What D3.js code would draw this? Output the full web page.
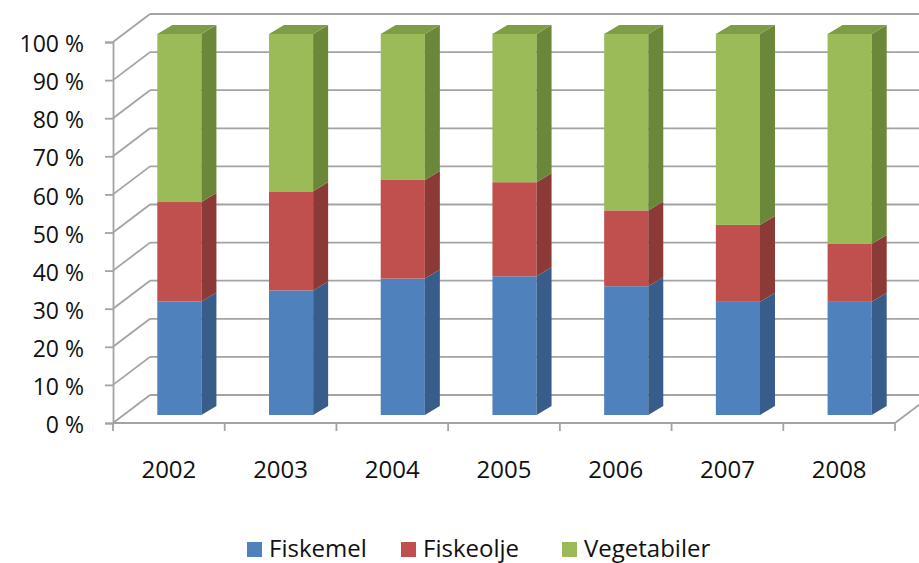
<!DOCTYPE html>
<html>
<head>
<meta charset="utf-8">
<script src="https://cdn.jsdelivr.net/npm/d3@7"></script>
<style>
  html, body { margin: 0; padding: 0; background: #fff; }
  svg { display: block; }
  text { font-family: "Open Sans", "Noto Sans", sans-serif; fill: #111; }
</style>
</head>
<body>
<svg id="chart" width="919" height="563"></svg>
<script>
// ---- data ----
const categories = ["2002", "2003", "2004", "2005", "2006", "2007", "2008"];
const seriesNames = ["Fiskemel", "Fiskeolje", "Vegetabiler"];
const fiskemel    = [29.8, 32.7, 35.8, 36.4, 33.8, 29.7, 29.7];
const fiskeolje   = [26.1, 26.0, 25.9, 24.7, 19.9, 20.2, 15.2];
const vegetabiler = [44.1, 41.3, 38.3, 38.9, 46.3, 50.1, 55.1];
const yTicks = [0, 10, 20, 30, 40, 50, 60, 70, 80, 90, 100];

const frontColors = ["#4f81bd", "#c0504d", "#9bbb59"];
const sideColors  = ["#385d8a", "#8b3a37", "#6b873a"];
const topColors   = ["#4470a6", "#a94543", "#7f9d47"];

// ---- layout ----
const W = 919, H = 563;
const plotLeft = 113, plotRight = 895, plotBottom = 423, plotTop = 42;
const depthX = 37, depthY = -28;           // wall depth
const barShiftX = 10.5, barShiftY = -8;    // bar front position inside depth
const barDX = 15, barDY = -9;              // bar depth
const gridColor = "#a3a3a3";

const svg = d3.select("#chart");

const x = d3.scaleBand()
  .domain(categories)
  .range([plotLeft, plotRight])
  .paddingInner(0.605)
  .paddingOuter(0.3025);

const y = d3.scaleLinear().domain([0, 100]).range([plotBottom, plotTop]);

// ---- walls / gridlines ----
const grid = svg.append("g");
yTicks.forEach(t => {
  const yf = y(t), yb = y(t) + depthY;
  grid.append("line")
    .attr("x1", plotLeft).attr("y1", yf)
    .attr("x2", plotLeft + depthX).attr("y2", yb)
    .attr("stroke", gridColor).attr("stroke-width", 1.8);
  grid.append("line")
    .attr("x1", plotLeft + depthX).attr("y1", yb)
    .attr("x2", W + 5).attr("y2", yb)
    .attr("stroke", gridColor).attr("stroke-width", 1.8);
});
// floor front edge + right floor edge
grid.append("line")
  .attr("x1", plotLeft).attr("y1", plotBottom)
  .attr("x2", plotRight).attr("y2", plotBottom)
  .attr("stroke", gridColor).attr("stroke-width", 1.8);
grid.append("line")
  .attr("x1", plotRight).attr("y1", plotBottom)
  .attr("x2", plotRight + depthX).attr("y2", plotBottom + depthY)
  .attr("stroke", gridColor).attr("stroke-width", 1.8);

// ---- y axis ----
const yAxis = d3.axisLeft(y)
  .tickValues(yTicks)
  .tickFormat(d => d + " %")
  .tickSize(8)
  .tickPadding(21);
const ya = svg.append("g").attr("transform", `translate(${plotLeft},0)`).call(yAxis);
ya.select(".domain").attr("stroke", gridColor).attr("stroke-width", 1.8);
ya.selectAll(".tick line").attr("stroke", gridColor).attr("stroke-width", 1.8);
ya.selectAll(".tick text")
  .attr("dy", "0.42em")
  .style("font-size", "23px")
  .style("font-family", "'Open Sans', sans-serif")
  .attr("fill", "#111");

// ---- x axis ----
const xAxis = d3.axisBottom(x).tickSize(0).tickPadding(38);
const xa = svg.append("g").attr("transform", `translate(0,${plotBottom})`).call(xAxis);
xa.select(".domain").remove();
xa.selectAll(".tick text")
  .style("font-size", "24px")
  .style("font-family", "'Open Sans', sans-serif")
  .attr("fill", "#111");
const step = x.step();
const boundaries = d3.range(categories.length + 1).map(i => plotLeft + i * step);
svg.append("g").selectAll("line").data(boundaries).join("line")
  .attr("x1", d => d).attr("x2", d => d)
  .attr("y1", plotBottom).attr("y2", plotBottom + 8)
  .attr("stroke", gridColor).attr("stroke-width", 1.8);

// ---- bars ----
const rows = categories.map((c, i) => ({
  cat: c,
  Fiskemel: fiskemel[i],
  Fiskeolje: fiskeolje[i],
  Vegetabiler: vegetabiler[i]
}));
const stacked = d3.stack().keys(seriesNames)(rows);

const bw = x.bandwidth();
const bars = svg.append("g");
categories.forEach((c, ci) => {
  const x0 = x(c) + barShiftX, x1 = x0 + bw;
  stacked.forEach((layer, si) => {
    const seg = layer[ci];
    const yb = y(seg[0]) + barShiftY;
    const yt = y(seg[1]) + barShiftY;
    const g = bars.append("g");
    // front face
    g.append("rect")
      .attr("x", x0).attr("y", yt)
      .attr("width", bw).attr("height", yb - yt)
      .attr("fill", frontColors[si]);
    // side face
    g.append("polygon")
      .attr("points", [[x1, yb], [x1 + barDX, yb + barDY], [x1 + barDX, yt + barDY], [x1, yt]].map(p => p.join(",")).join(" "))
      .attr("fill", sideColors[si]);
    // top face (only top segment visible)
    if (si === stacked.length - 1) {
      g.append("polygon")
        .attr("points", [[x0, yt], [x0 + barDX, yt + barDY], [x1 + barDX, yt + barDY], [x1, yt]].map(p => p.join(",")).join(" "))
        .attr("fill", topColors[si]);
    }
  });
});

// ---- legend ----
const legendX = [247, 401, 562];
const legend = svg.append("g");
seriesNames.forEach((name, i) => {
  legend.append("rect")
    .attr("x", legendX[i]).attr("y", 542)
    .attr("width", 15).attr("height", 15)
    .attr("fill", frontColors[i]);
  legend.append("text")
    .attr("x", legendX[i] + 22).attr("y", 557)
    .style("font-size", "24px")
    .text(name);
});
</script>
</body>
</html>
